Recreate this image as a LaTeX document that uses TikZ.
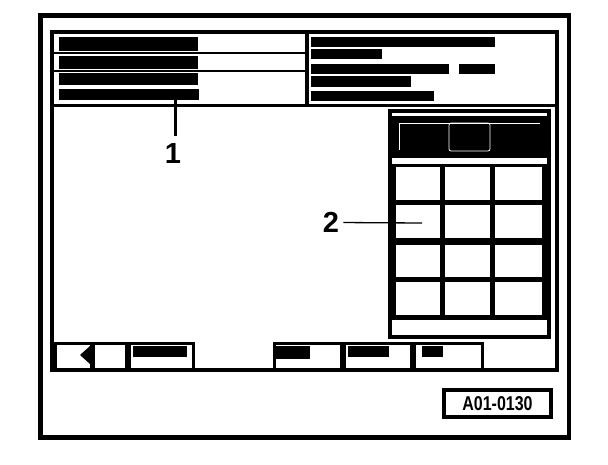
\documentclass[tikz,border=0pt]{standalone}
\usepackage{fontspec}
\setmainfont{Liberation Sans}
\usepackage{tikz}

\begin{document}
\begin{tikzpicture}[x=1pt, y=-1pt]
 \tikzstyle{every node}=[inner sep=0pt, font=\bfseries]
 \tikzstyle{frame}=[draw, line width=4.5pt]
 \tikzstyle{screen}=[draw, line width=4pt]
 \tikzstyle{bar}=[fill=black]
 \tikzstyle{sep}=[draw, line width=2pt]
 \tikzstyle{button}=[draw, fill=white, line width=3pt]
 \tikzstyle{key}=[fill=white]
 \tikzstyle{lcd}=[draw=white, line width=0.8pt]
 \useasboundingbox (0,0) rectangle (608,464);

 % housing and screen
 \draw[frame] (40.5,15.5) rectangle (569,437.5);
 \draw[screen] (52,32) rectangle (557,370);

 % header, left half
 \fill[bar] (59,37) rectangle (198,51);
 \draw[sep] (52,53) -- (307,53);
 \fill[bar] (59,56) rectangle (198,69);
 \draw[sep] (52,71) -- (307,71);
 \fill[bar] (59,73) rectangle (198,85);
 \fill[bar] (59,89) rectangle (199,100);
 \draw[line width=3.5pt] (52,105.5) -- (557,105.5);
 \draw[line width=3.5pt] (307,32) -- (307,105.5);

 % header, right half
 \fill[bar] (311,37) rectangle (495,47);
 \fill[bar] (311,49) rectangle (382,59);
 \fill[bar] (311,64) rectangle (449,74);
 \fill[bar] (459,64) rectangle (495,74);
 \fill[bar] (311,76) rectangle (411,87);
 \fill[bar] (311,91) rectangle (434,101);

 % keypad panel
 \draw[screen] (390,111) rectangle (549,337);
 \fill[bar] (392,116) rectangle (547,158);
 \draw[lcd] (399,150) -- (399,123) -- (540,123);
 \draw[lcd, rounded corners=2pt] (449,123) rectangle (490,151);
 \fill[bar] (392,164) rectangle (547,320);
 \foreach \xa/\xb in {396/440, 445/490, 495/542}
  \foreach \ya/\yb in {167/200, 205/238, 245/277, 282/315}
   \fill[key] (\xa,\ya) rectangle (\xb,\yb);

 % soft keys
 \draw[button] (55,343) rectangle (126,369);
 \fill[bar] (80,355) -- (90,346) -- (90,364) -- cycle;
 \fill[bar] (90,344) rectangle (95,368);
 \draw[button] (129,343) rectangle (193,369);
 \fill[bar] (133,346) rectangle (187,357);
 \draw[button] (274,343) rectangle (341,369);
 \fill[bar] (276,346) rectangle (310,359);
 \draw[button] (344,343) rectangle (411,369);
 \fill[bar] (348,346) rectangle (389,357);
 \draw[button] (414,343) rectangle (482,369);
 \fill[bar] (422,346) rectangle (443,357);

 % callouts
 \coordinate (p1) at (175,100);
 \node (n1) at (173,154) {\fontsize{29}{29}\selectfont 1};
 \draw[line width=3pt, shorten >=8pt] (p1) -- (p1 |- n1.north);
 \coordinate (p2) at (422,223);
 \node (n2) at (331,222.5) {\fontsize{29}{29}\selectfont 2};
 \draw[line width=1.3pt, shorten <=4pt] (n2.east) -- (p2);

 % figure number
 \node[draw, line width=4pt, minimum width=107pt, minimum height=27pt] (fig) at (497.5,403.5)
  {\scalebox{0.8}[1]{\fontsize{20}{20}\selectfont A01-0130}};
\end{tikzpicture}
\end{document}
